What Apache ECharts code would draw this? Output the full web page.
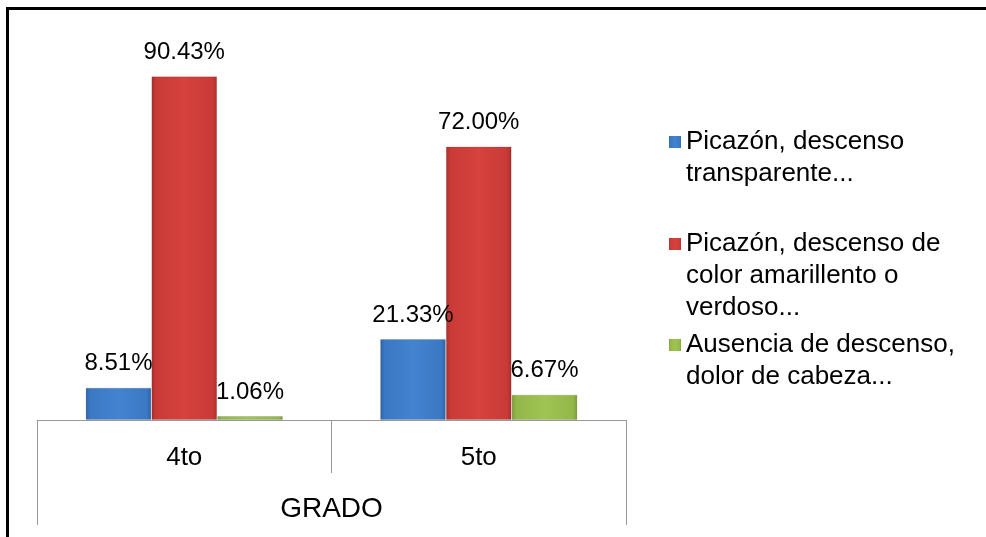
<!DOCTYPE html>
<html>
<head>
<meta charset="utf-8">
<script src="https://cdn.jsdelivr.net/npm/echarts@6/dist/echarts.min.js"></script>
<style>
  html, body { margin: 0; padding: 0; background: #fff; }
  #chart { width: 986px; height: 537px; position: absolute; left: 0; top: 0; }
  #frame { position: absolute; left: 6px; top: 7px; width: 980px; height: 530px;
           border-top: 3px solid #000; border-left: 3px solid #000; box-sizing: border-box; pointer-events: none; }
</style>
</head>
<body>
<div id="chart"></div>
<div id="frame"></div>
<script>
// ---- data ----
const grades = ['4to', '5to'];
const groupLabel = 'GRADO';
const seriesNames = [
  'Picazón, descenso\ntransparente...',
  'Picazón, descenso de\ncolor amarillento o\nverdoso...',
  'Ausencia de descenso,\ndolor de cabeza...'
];
const transparente = [8.51, 21.33];
const amarillento = [90.43, 72.00];
const ausencia = [1.06, 6.67];

// ---- styling ----
function grad(dark, main, light) {
  return {
    type: 'linear', x: 0, y: 0, x2: 1, y2: 0,
    colorStops: [
      { offset: 0, color: dark },
      { offset: 0.07, color: main },
      { offset: 0.5, color: light },
      { offset: 0.93, color: main },
      { offset: 1, color: dark }
    ]
  };
}
const colors = [
  grad('#2c62a6', '#3b78c4', '#4383cf'),
  grad('#a82e2b', '#c93a36', '#d6423e'),
  grad('#7a9a35', '#93b84a', '#9fc452')
];
const values = [transparente, amarillento, ausencia];

const series = values.map((vals, i) => ({
  name: seriesNames[i],
  type: 'bar',
  xAxisIndex: 0,
  data: vals,
  barGap: '0%',
  barCategoryGap: '33%',
  itemStyle: { color: colors[i], borderColor: 'rgba(0,0,0,0.12)', borderWidth: 1 },
  label: {
    show: true, position: 'top', distance: 12,
    fontFamily: 'Liberation Sans, Arial, sans-serif', fontSize: 24, color: '#000',
    formatter: p => p.value.toFixed(2) + '%'
  }
}));

// legend: icon aligned with first text line
const LH = 32;
const ICON = 12;
const legendTops = [126, 228, 329];
const lineCounts = [2, 3, 2];
function iconPath(n) {
  const h = n * LH;
  const y0 = LH / 2 - ICON / 2;
  return 'path://M0,0 L0,0 M0,' + y0 + ' L' + ICON + ',' + y0 + ' L' + ICON + ',' + (y0 + ICON) +
         ' L0,' + (y0 + ICON) + ' Z M' + ICON + ',' + h + ' L' + ICON + ',' + h;
}
const legends = seriesNames.map((n, i) => ({
  data: [{ name: n, icon: iconPath(lineCounts[i]) }],
  orient: 'vertical',
  left: 669,
  top: legendTops[i],
  padding: 0,
  itemWidth: ICON,
  itemHeight: lineCounts[i] * LH,
  itemStyle: { borderWidth: 0 },
  selectedMode: false,
  textStyle: {
    fontFamily: 'Liberation Sans, Arial, sans-serif',
    fontSize: 26, color: '#000', lineHeight: LH
  }
}));

const chart = echarts.init(document.getElementById('chart'), null, { renderer: 'canvas' });
chart.setOption({
  animation: false,
  backgroundColor: '#fff',
  legend: legends,
  grid: { left: 37, right: 360, top: 40, bottom: 117 },
  xAxis: [
    {
      type: 'category', data: grades,
      axisLine: { show: true, lineStyle: { color: '#999', width: 1 } },
      axisTick: { show: true, length: 53, lineStyle: { color: '#999' } },
      axisLabel: { fontFamily: 'Liberation Sans, Arial, sans-serif', fontSize: 26, color: '#000', margin: 25 }
    },
    {
      type: 'category', data: [groupLabel], position: 'bottom',
      axisLine: { show: false },
      axisTick: { show: true, length: 105, lineStyle: { color: '#999' } },
      axisLabel: { fontFamily: 'Liberation Sans, Arial, sans-serif', fontSize: 28, color: '#000', margin: 75 }
    }
  ],
  yAxis: { type: 'value', min: 0, max: 100, show: false, splitLine: { show: false } },
  series: series
});
</script>
</body>
</html>
